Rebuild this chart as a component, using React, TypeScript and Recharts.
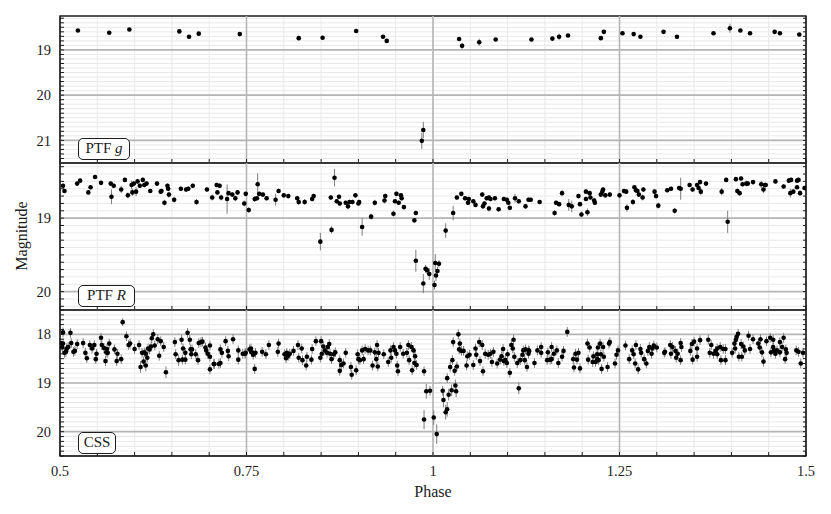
import {
  ScatterChart,
  Scatter,
  XAxis,
  YAxis,
  CartesianGrid,
  ReferenceLine,
  ReferenceArea,
  ErrorBar,
} from 'recharts';

type Pt = [number, number, number]; // phase, magnitude, error

const ptfG: Pt[] = [
  [0.524, 18.57, 0.02], [0.566, 18.62, 0.02], [0.593, 18.55, 0.02], [0.66, 18.59, 0.02], [0.673, 18.71, 0.02],
  [0.686, 18.64, 0.02], [0.741, 18.65, 0.02], [0.82, 18.74, 0.05], [0.852, 18.73, 0.02], [0.897, 18.58, 0.02],
  [0.933, 18.71, 0.02], [0.938, 18.8, 0.02], [0.985, 21.01, 0.18], [0.987, 20.77, 0.18], [1.035, 18.76, 0.03],
  [1.039, 18.91, 0.06], [1.062, 18.83, 0.08], [1.084, 18.77, 0.02], [1.132, 18.77, 0.02], [1.16, 18.75, 0.02],
  [1.169, 18.71, 0.07], [1.181, 18.68, 0.02], [1.225, 18.74, 0.02], [1.229, 18.6, 0.02], [1.254, 18.63, 0.02],
  [1.269, 18.65, 0.02], [1.278, 18.71, 0.02], [1.309, 18.6, 0.02], [1.327, 18.71, 0.02], [1.376, 18.63, 0.02],
  [1.398, 18.52, 0.1], [1.412, 18.57, 0.02], [1.425, 18.63, 0.02], [1.458, 18.6, 0.02], [1.465, 18.63, 0.02],
  [1.491, 18.66, 0.02],
];

const ptfR: Pt[] = [
  [0.504, 18.56, 0.03], [0.506, 18.63, 0.03], [0.523, 18.53, 0.03], [0.527, 18.49, 0.03], [0.538, 18.65, 0.03],
  [0.541, 18.58, 0.03], [0.547, 18.44, 0.03], [0.555, 18.52, 0.03], [0.568, 18.53, 0.03], [0.569, 18.71, 0.1],
  [0.572, 18.56, 0.03], [0.582, 18.61, 0.05], [0.587, 18.48, 0.03], [0.591, 18.69, 0.04], [0.596, 18.55, 0.06],
  [0.597, 18.65, 0.05], [0.599, 18.53, 0.03], [0.602, 18.64, 0.06], [0.604, 18.5, 0.03], [0.607, 18.56, 0.03],
  [0.611, 18.48, 0.03], [0.613, 18.55, 0.03], [0.616, 18.53, 0.03], [0.621, 18.63, 0.03], [0.63, 18.53, 0.03],
  [0.635, 18.64, 0.03], [0.636, 18.63, 0.03], [0.64, 18.79, 0.04], [0.644, 18.56, 0.03], [0.645, 18.6, 0.03],
  [0.646, 18.68, 0.04], [0.653, 18.75, 0.04], [0.662, 18.6, 0.03], [0.669, 18.61, 0.03], [0.672, 18.6, 0.03],
  [0.678, 18.56, 0.03], [0.683, 18.78, 0.04], [0.697, 18.61, 0.03], [0.704, 18.72, 0.04], [0.71, 18.55, 0.03],
  [0.711, 18.65, 0.03], [0.714, 18.56, 0.03], [0.716, 18.72, 0.04], [0.724, 18.74, 0.2], [0.726, 18.66, 0.03],
  [0.731, 18.68, 0.03], [0.735, 18.73, 0.04], [0.738, 18.65, 0.03], [0.747, 18.8, 0.04], [0.749, 18.67, 0.03],
  [0.753, 18.89, 0.04], [0.761, 18.74, 0.04], [0.764, 18.73, 0.03], [0.765, 18.54, 0.15], [0.767, 18.67, 0.03],
  [0.772, 18.68, 0.03], [0.777, 18.73, 0.03], [0.789, 18.75, 0.08], [0.793, 18.63, 0.03],
  [0.8, 18.69, 0.03], [0.806, 18.7, 0.03], [0.818, 18.73, 0.03], [0.82, 18.78, 0.04], [0.828, 18.78, 0.04],
  [0.838, 18.74, 0.03], [0.84, 18.7, 0.03], [0.849, 19.32, 0.12], [0.863, 18.72, 0.03], [0.864, 19.16, 0.05],
  [0.868, 18.45, 0.12], [0.871, 18.77, 0.03], [0.874, 18.71, 0.03], [0.875, 18.8, 0.03], [0.883, 18.79, 0.03],
  [0.886, 18.84, 0.04], [0.888, 18.78, 0.03], [0.892, 18.78, 0.03], [0.896, 18.69, 0.03], [0.9, 18.8, 0.03],
  [0.901, 18.78, 0.03], [0.905, 19.12, 0.12], [0.917, 18.98, 0.04], [0.922, 18.79, 0.04], [0.935, 18.76, 0.04],
  [0.936, 18.7, 0.03], [0.947, 18.94, 0.04], [0.949, 18.77, 0.03], [0.951, 18.67, 0.03], [0.954, 18.79, 0.03],
  [0.957, 18.69, 0.03], [0.958, 18.73, 0.03], [0.961, 18.85, 0.03], [0.975, 19.03, 0.03], [0.977, 18.93, 0.03],
  [0.977, 19.58, 0.15], [0.987, 19.89, 0.13], [0.99, 19.69, 0.05], [0.992, 19.71, 0.05], [0.995, 19.76, 0.08],
  [1.002, 19.91, 0.06], [1.003, 19.61, 0.12], [1.004, 19.78, 0.08], [1.006, 19.72, 0.06], [1.008, 19.62, 0.05],
  [1.017, 19.17, 0.1], [1.027, 18.93, 0.1], [1.032, 18.72, 0.03], [1.038, 18.67, 0.03], [1.043, 18.73, 0.03],
  [1.047, 18.79, 0.03], [1.048, 18.74, 0.03], [1.054, 18.77, 0.03], [1.057, 18.82, 0.03], [1.066, 18.68, 0.03],
  [1.067, 18.84, 0.03], [1.069, 18.8, 0.03], [1.072, 18.73, 0.03], [1.075, 18.72, 0.03], [1.075, 18.87, 0.04],
  [1.077, 18.74, 0.03], [1.083, 18.73, 0.03], [1.088, 18.88, 0.03], [1.095, 18.74, 0.03], [1.099, 18.75, 0.03],
  [1.101, 18.79, 0.03], [1.103, 18.86, 0.03], [1.11, 18.73, 0.06], [1.115, 18.77, 0.03], [1.124, 18.84, 0.03],
  [1.128, 18.75, 0.03], [1.131, 18.75, 0.03], [1.143, 18.78, 0.03],
  [1.163, 18.93, 0.04], [1.165, 18.79, 0.03], [1.169, 18.81, 0.03], [1.173, 18.66, 0.04], [1.182, 18.82, 0.08],
  [1.186, 18.84, 0.08], [1.195, 18.7, 0.03], [1.197, 18.81, 0.03], [1.199, 18.95, 0.04], [1.205, 18.64, 0.03],
  [1.205, 18.74, 0.03], [1.207, 18.92, 0.05], [1.21, 18.66, 0.03], [1.211, 18.72, 0.03], [1.216, 18.76, 0.04],
  [1.217, 18.79, 0.03], [1.225, 18.68, 0.03], [1.227, 18.64, 0.03], [1.228, 18.61, 0.03], [1.231, 18.69, 0.03],
  [1.237, 18.68, 0.03], [1.25, 18.69, 0.03], [1.256, 18.63, 0.03], [1.259, 18.64, 0.03], [1.26, 18.86, 0.05],
  [1.268, 18.78, 0.04], [1.27, 18.58, 0.03], [1.272, 18.62, 0.03], [1.274, 18.63, 0.03], [1.276, 18.68, 0.03],
  [1.281, 18.72, 0.04], [1.282, 18.61, 0.03], [1.297, 18.64, 0.03], [1.299, 18.7, 0.03], [1.302, 18.83, 0.04],
  [1.314, 18.62, 0.03], [1.319, 18.6, 0.03], [1.324, 18.9, 0.04], [1.33, 18.59, 0.03], [1.332, 18.6, 0.15],
  [1.344, 18.55, 0.03], [1.348, 18.61, 0.03], [1.354, 18.55, 0.03], [1.356, 18.59, 0.03], [1.358, 18.51, 0.03],
  [1.359, 18.64, 0.05], [1.366, 18.53, 0.03], [1.387, 18.64, 0.05], [1.393, 18.48, 0.03], [1.395, 19.05, 0.15],
  [1.406, 18.47, 0.03], [1.408, 18.63, 0.03], [1.411, 18.66, 0.03], [1.413, 18.46, 0.03], [1.415, 18.54, 0.03],
  [1.42, 18.53, 0.04], [1.422, 18.53, 0.03], [1.429, 18.51, 0.03], [1.44, 18.54, 0.05], [1.443, 18.61, 0.05],
  [1.445, 18.55, 0.03], [1.446, 18.55, 0.03], [1.459, 18.5, 0.03], [1.47, 18.57, 0.03], [1.477, 18.49, 0.03],
  [1.479, 18.66, 0.06], [1.48, 18.48, 0.03], [1.483, 18.64, 0.03], [1.488, 18.49, 0.03], [1.488, 18.58, 0.03],
  [1.49, 18.48, 0.03], [1.492, 18.66, 0.04], [1.498, 18.59, 0.03],
];

const css: Pt[] = [
  [0.501, 18.18, 0.1], [0.503, 18.26, 0.1], [0.504, 17.96, 0.1], [0.504, 18.19, 0.1], [0.506, 18.38, 0.1],
  [0.508, 18.36, 0.1], [0.509, 18.29, 0.1], [0.511, 18.26, 0.1], [0.514, 17.97, 0.1], [0.515, 18.18, 0.1],
  [0.518, 18.36, 0.1], [0.52, 18.34, 0.1], [0.523, 18.2, 0.1], [0.531, 18.18, 0.1], [0.534, 18.38, 0.1],
  [0.536, 18.49, 0.1], [0.54, 18.22, 0.1], [0.543, 18.29, 0.1], [0.546, 18.22, 0.1], [0.548, 18.51, 0.1],
  [0.549, 18.4, 0.1], [0.555, 18.07, 0.1], [0.556, 18.22, 0.1], [0.559, 18.28, 0.1], [0.561, 18.55, 0.1],
  [0.562, 18.37, 0.1], [0.563, 18.3, 0.1], [0.564, 18.38, 0.1], [0.566, 18.19, 0.1], [0.573, 18.31, 0.1],
  [0.576, 18.55, 0.1], [0.577, 18.4, 0.1], [0.582, 18.51, 0.1], [0.584, 17.75, 0.08], [0.589, 18.04, 0.1],
  [0.592, 18.22, 0.1], [0.594, 18.19, 0.1], [0.6, 18.3, 0.1], [0.606, 18.22, 0.1], [0.608, 18.67, 0.12],
  [0.61, 18.38, 0.1], [0.612, 18.56, 0.1], [0.613, 18.37, 0.1], [0.615, 18.4, 0.1], [0.615, 18.64, 0.12],
  [0.617, 18.48, 0.1], [0.618, 18.29, 0.1], [0.62, 18.31, 0.1], [0.622, 18.25, 0.1], [0.623, 18.08, 0.1],
  [0.625, 18.0, 0.1], [0.627, 18.23, 0.1], [0.631, 18.1, 0.1], [0.633, 18.44, 0.1], [0.635, 18.14, 0.1],
  [0.639, 18.26, 0.1], [0.642, 18.78, 0.12], [0.654, 18.16, 0.1], [0.655, 18.41, 0.1], [0.659, 18.53, 0.12],
  [0.663, 18.11, 0.1], [0.664, 18.52, 0.1], [0.665, 18.29, 0.1], [0.668, 18.38, 0.1], [0.668, 18.52, 0.1],
  [0.671, 17.97, 0.1], [0.674, 18.11, 0.1], [0.675, 18.31, 0.1], [0.676, 18.41, 0.1], [0.677, 18.31, 0.1],
  [0.682, 18.41, 0.1], [0.685, 18.53, 0.1], [0.686, 18.18, 0.1], [0.689, 18.16, 0.1], [0.691, 18.15, 0.1],
  [0.695, 18.27, 0.1], [0.696, 18.33, 0.1], [0.698, 18.4, 0.1], [0.701, 18.46, 0.1], [0.701, 18.23, 0.1],
  [0.701, 18.72, 0.1], [0.706, 18.61, 0.1], [0.707, 18.61, 0.1], [0.713, 18.61, 0.1], [0.715, 18.59, 0.1],
  [0.715, 18.31, 0.1], [0.717, 18.38, 0.1], [0.722, 18.14, 0.1], [0.725, 18.34, 0.1], [0.726, 18.45, 0.1],
  [0.732, 18.1, 0.1], [0.739, 18.33, 0.1], [0.739, 18.52, 0.1], [0.745, 18.4, 0.1], [0.748, 18.4, 0.1],
  [0.749, 18.38, 0.1], [0.754, 18.31, 0.1], [0.756, 18.29, 0.1], [0.757, 18.37, 0.1], [0.759, 18.42, 0.1],
  [0.761, 18.71, 0.1], [0.762, 18.38, 0.1], [0.771, 18.36, 0.1], [0.776, 18.41, 0.1], [0.78, 18.22, 0.1],
  [0.792, 18.36, 0.1], [0.793, 18.19, 0.1],
  [0.801, 18.41, 0.1], [0.803, 18.49, 0.1], [0.804, 18.38, 0.1], [0.806, 18.44, 0.1], [0.808, 18.4, 0.1],
  [0.813, 18.34, 0.1], [0.819, 18.22, 0.1], [0.82, 18.48, 0.1], [0.824, 18.29, 0.1], [0.825, 18.53, 0.1],
  [0.83, 18.64, 0.1], [0.831, 18.46, 0.1], [0.837, 18.52, 0.1], [0.838, 18.3, 0.1], [0.843, 18.14, 0.1],
  [0.849, 18.48, 0.1], [0.85, 18.14, 0.1], [0.851, 18.4, 0.1], [0.853, 18.25, 0.1], [0.855, 18.33, 0.1],
  [0.858, 18.38, 0.1], [0.859, 18.26, 0.1], [0.861, 18.2, 0.1], [0.862, 18.4, 0.1], [0.864, 18.51, 0.1],
  [0.867, 18.41, 0.1], [0.869, 18.37, 0.1], [0.875, 18.53, 0.1], [0.875, 18.75, 0.1], [0.877, 18.63, 0.1],
  [0.88, 18.6, 0.1], [0.883, 18.38, 0.1], [0.89, 18.67, 0.1], [0.891, 18.83, 0.1], [0.897, 18.74, 0.1],
  [0.899, 18.41, 0.1], [0.9, 18.51, 0.1], [0.902, 18.53, 0.1], [0.905, 18.33, 0.1], [0.907, 18.51, 0.1],
  [0.909, 18.3, 0.1], [0.913, 18.33, 0.1], [0.916, 18.33, 0.1], [0.919, 18.64, 0.1], [0.922, 18.37, 0.1],
  [0.924, 18.51, 0.1], [0.925, 18.22, 0.1], [0.926, 18.66, 0.1], [0.927, 18.38, 0.1], [0.934, 18.41, 0.1],
  [0.94, 18.57, 0.1], [0.943, 18.33, 0.1], [0.944, 18.48, 0.1], [0.947, 18.26, 0.1], [0.949, 18.33, 0.1],
  [0.951, 18.4, 0.1], [0.952, 18.64, 0.1], [0.953, 18.76, 0.1], [0.956, 18.26, 0.1], [0.96, 18.4, 0.1],
  [0.965, 18.38, 0.1], [0.967, 18.22, 0.1], [0.968, 18.53, 0.1], [0.971, 18.26, 0.1], [0.972, 18.74, 0.1],
  [0.974, 18.33, 0.1], [0.975, 18.59, 0.1], [0.976, 18.45, 0.1], [0.978, 18.63, 0.1], [0.988, 18.76, 0.1],
  [0.988, 19.75, 0.2], [0.991, 19.17, 0.15], [0.996, 19.16, 0.1], [1.001, 19.71, 0.15], [1.005, 20.05, 0.2],
  [1.013, 19.16, 0.1], [1.014, 19.35, 0.15], [1.017, 19.6, 0.15], [1.019, 18.9, 0.1], [1.019, 19.54, 0.15],
  [1.021, 19.24, 0.12], [1.023, 18.67, 0.1], [1.025, 19.15, 0.12], [1.026, 18.53, 0.1], [1.027, 18.16, 0.1],
  [1.029, 18.75, 0.1], [1.03, 19.05, 0.12], [1.031, 19.17, 0.12], [1.032, 18.66, 0.1], [1.034, 18.0, 0.1],
  [1.035, 18.31, 0.1], [1.036, 18.19, 0.1], [1.038, 18.34, 0.1], [1.041, 18.34, 0.1], [1.045, 18.64, 0.1],
  [1.046, 18.45, 0.1], [1.049, 18.42, 0.1], [1.054, 18.63, 0.1], [1.057, 18.29, 0.1], [1.058, 18.42, 0.1],
  [1.062, 18.16, 0.1], [1.063, 18.55, 0.1], [1.066, 18.22, 0.1], [1.067, 18.76, 0.1], [1.07, 18.4, 0.1],
  [1.074, 18.42, 0.1], [1.077, 18.4, 0.1], [1.079, 18.57, 0.1], [1.081, 18.36, 0.1], [1.086, 18.6, 0.1],
  [1.09, 18.52, 0.1], [1.092, 18.45, 0.1], [1.094, 18.3, 0.1], [1.095, 18.55, 0.1], [1.097, 18.53, 0.1],
  [1.099, 18.59, 0.1], [1.1, 18.41, 0.1], [1.103, 18.79, 0.1], [1.105, 18.22, 0.1], [1.107, 18.29, 0.1],
  [1.108, 18.11, 0.1], [1.109, 18.46, 0.1], [1.113, 18.59, 0.1], [1.115, 19.11, 0.12], [1.117, 18.53, 0.1],
  [1.12, 18.42, 0.1], [1.121, 18.33, 0.1], [1.123, 18.53, 0.1], [1.124, 18.31, 0.1], [1.126, 18.67, 0.1],
  [1.128, 18.33, 0.1], [1.128, 18.4, 0.1], [1.129, 18.34, 0.1], [1.136, 18.59, 0.1], [1.14, 18.33, 0.1],
  [1.145, 18.26, 0.1], [1.145, 18.38, 0.1], [1.153, 18.53, 0.1], [1.154, 18.37, 0.1], [1.157, 18.52, 0.1],
  [1.159, 18.26, 0.1], [1.159, 18.51, 0.1], [1.162, 18.4, 0.1], [1.166, 18.33, 0.1], [1.168, 18.59, 0.1],
  [1.173, 18.46, 0.1], [1.175, 18.34, 0.1], [1.18, 17.95, 0.1], [1.188, 18.51, 0.1], [1.189, 18.68, 0.1],
  [1.191, 18.4, 0.1], [1.193, 18.52, 0.1], [1.195, 18.38, 0.1], [1.197, 18.7, 0.1], [1.207, 18.19, 0.1],
  [1.208, 18.52, 0.1], [1.21, 18.27, 0.1], [1.214, 18.57, 0.1], [1.215, 18.45, 0.1], [1.218, 18.57, 0.1],
  [1.22, 18.51, 0.1], [1.22, 18.41, 0.1], [1.221, 18.27, 0.1], [1.222, 18.53, 0.1], [1.224, 18.19, 0.1],
  [1.225, 18.41, 0.1], [1.226, 18.71, 0.1], [1.228, 18.26, 0.1], [1.229, 18.46, 0.1], [1.234, 18.67, 0.1],
  [1.236, 18.19, 0.1], [1.237, 18.16, 0.1], [1.244, 18.6, 0.1], [1.246, 18.42, 0.1], [1.248, 18.33, 0.1],
  [1.258, 18.23, 0.1], [1.263, 18.51, 0.1], [1.267, 18.33, 0.1], [1.269, 18.41, 0.1], [1.271, 18.6, 0.1],
  [1.272, 18.22, 0.1], [1.275, 18.72, 0.1], [1.278, 18.3, 0.1], [1.279, 18.38, 0.1], [1.283, 18.51, 0.1],
  [1.286, 18.6, 0.1], [1.288, 18.34, 0.1], [1.29, 18.26, 0.1], [1.293, 18.4, 0.1], [1.294, 18.29, 0.1],
  [1.296, 18.23, 0.1], [1.3, 18.27, 0.1], [1.31, 18.38, 0.1], [1.311, 18.36, 0.1], [1.318, 18.22, 0.1],
  [1.319, 18.4, 0.1], [1.321, 18.26, 0.1], [1.325, 18.34, 0.1], [1.326, 18.48, 0.1], [1.328, 18.4, 0.1],
  [1.332, 18.53, 0.1], [1.332, 18.18, 0.1], [1.333, 18.26, 0.1], [1.345, 18.34, 0.1], [1.347, 18.2, 0.1],
  [1.348, 18.52, 0.1], [1.35, 18.15, 0.1], [1.354, 18.29, 0.1], [1.354, 18.46, 0.1], [1.358, 18.12, 0.1],
  [1.369, 18.11, 0.1], [1.371, 18.38, 0.1], [1.373, 18.22, 0.1], [1.376, 18.4, 0.1], [1.379, 18.34, 0.1],
  [1.381, 18.41, 0.1], [1.381, 18.29, 0.1], [1.385, 18.26, 0.1], [1.386, 18.53, 0.1], [1.389, 18.3, 0.1],
  [1.392, 18.53, 0.1], [1.392, 18.3, 0.1], [1.401, 18.38, 0.1], [1.404, 18.19, 0.1], [1.405, 18.29, 0.1],
  [1.406, 18.11, 0.1], [1.407, 18.05, 0.1], [1.409, 17.99, 0.1], [1.41, 18.46, 0.1], [1.413, 18.2, 0.1],
  [1.414, 18.46, 0.1], [1.416, 18.25, 0.1], [1.418, 18.33, 0.1], [1.423, 18.03, 0.1], [1.425, 18.3, 0.1],
  [1.429, 18.1, 0.1], [1.436, 18.19, 0.1], [1.438, 18.27, 0.1], [1.439, 18.1, 0.1], [1.441, 18.37, 0.1],
  [1.443, 18.56, 0.1], [1.447, 18.14, 0.1], [1.452, 18.07, 0.1], [1.453, 18.37, 0.1], [1.456, 18.11, 0.1],
  [1.456, 18.26, 0.1], [1.457, 18.33, 0.1], [1.459, 18.4, 0.1], [1.461, 18.33, 0.1], [1.465, 18.37, 0.1],
  [1.465, 18.16, 0.1], [1.468, 18.26, 0.1], [1.47, 18.07, 0.1], [1.472, 18.51, 0.1], [1.473, 18.31, 0.1],
  [1.474, 18.38, 0.1], [1.487, 18.33, 0.1], [1.49, 18.36, 0.1], [1.493, 18.6, 0.1], [1.496, 18.38, 0.1],
];

const phaseTicks = Array.from({ length: 21 }, (_, i) => Math.round((0.5 + i * 0.05) * 100) / 100);
const phaseMajor = [0.75, 1, 1.25];
const phaseLabels = [0.5, 0.75, 1, 1.25, 1.5];

const FONT = '"Liberation Serif", "DejaVu Serif", serif';
const INK = '#1c1c1c';

function magTicks(lo: number, hi: number) {
  const out: number[] = [];
  for (let k = Math.ceil(lo * 10 - 1e-6); k <= Math.floor(hi * 10 + 1e-6); k++) out.push(k / 10);
  return out;
}

function Dot(props: any) {
  return <circle cx={props.cx} cy={props.cy} r={2.3} fill="#000" />;
}

function Panel({ data, domain, top, bottom, showX }: { data: Pt[]; domain: [number, number]; top: number; bottom: number; showX: boolean }) {
  const ticks = magTicks(domain[0], domain[1]);
  const majors = ticks.filter((t) => Math.abs(t - Math.round(t)) < 1e-6);
  const rows = data.map(([phase, mag, err]) => ({ phase, mag, err }));
  return (
    <div style={{ position: 'absolute', left: 0, top: 0 }}>
      <ScatterChart width={831} height={514} margin={{ top, right: 20, bottom: 514 - bottom - 30, left: 10 }}>
        <CartesianGrid stroke="#e9e9e9" strokeWidth={1} />
        {phaseMajor.map((x) => (
          <ReferenceLine key={'x' + x} x={x} stroke="#b5b5b5" strokeWidth={1.6} />
        ))}
        {majors.map((y) => (
          <ReferenceLine key={'y' + y} y={y} stroke="#b5b5b5" strokeWidth={1.6} />
        ))}
        <XAxis
          type="number"
          dataKey="phase"
          domain={[0.5, 1.5]}
          allowDataOverflow
          ticks={phaseTicks}
          interval={0}
          height={30}
          tickSize={-4}
          tickMargin={14}
          stroke={INK}
          tick={{ fill: INK, fontSize: 14.5, fontFamily: FONT }}
          tickFormatter={(v: number) => (showX && phaseLabels.includes(v) ? String(v) : '')}
        />
        <XAxis
          xAxisId="t"
          orientation="top"
          type="number"
          domain={[0.5, 1.5]}
          allowDataOverflow
          ticks={phaseTicks}
          interval={0}
          height={0}
          tickSize={-4}
          stroke={INK}
          tickFormatter={() => ''}
        />
        <YAxis
          type="number"
          dataKey="mag"
          domain={domain}
          reversed
          allowDataOverflow
          ticks={ticks}
          interval={0}
          width={50}
          tickSize={-4}
          tickMargin={13}
          stroke={INK}
          tick={{ fill: INK, fontSize: 14.5, fontFamily: FONT }}
          tickFormatter={(v: number) => (Math.abs(v - Math.round(v)) < 1e-6 ? String(Math.round(v)) : '')}
        />
        <YAxis
          yAxisId="r"
          orientation="right"
          type="number"
          domain={domain}
          reversed
          allowDataOverflow
          ticks={ticks}
          interval={0}
          width={5}
          tickSize={-3}
          stroke={INK}
          tickFormatter={() => ''}
        />
        <ReferenceArea x1={0.5} x2={1.5} y1={domain[0]} y2={domain[1]} fill="none" stroke={INK} strokeWidth={1.4} />
        <Scatter data={rows} shape={Dot} isAnimationActive={false}>
          <ErrorBar dataKey="err" direction="y" width={0} stroke="#7d7d7d" strokeWidth={1} isAnimationActive={false} />
        </Scatter>
      </ScatterChart>
    </div>
  );
}

function Tag({ left, top, width, children }: { left: number; top: number; width: number; children: any }) {
  return (
    <div
      style={{
        position: 'absolute',
        left,
        top,
        width,
        height: 22,
        boxSizing: 'border-box',
        border: `1.6px solid ${INK}`,
        borderRadius: 5,
        background: '#fff',
        fontFamily: FONT,
        fontSize: 15,
        lineHeight: '19px',
        textAlign: 'center',
        color: INK,
      }}
    >
      {children}
    </div>
  );
}

export default function App() {
  return (
    <div style={{ position: 'relative', width: 831, height: 514, background: '#fff', overflow: 'hidden' }}>
      <style>{'body{margin:0}'}</style>
      <Panel data={ptfG} domain={[18.25, 21.5]} top={16} bottom={163} showX={false} />
      <Panel data={ptfR} domain={[18.25, 20.25]} top={163} bottom={310} showX={false} />
      <Panel data={css} domain={[17.5, 20.5]} top={310} bottom={456} showX={true} />
      <Tag left={78} top={138} width={52}>
        PTF <i>g</i>
      </Tag>
      <Tag left={78} top={285} width={57}>
        PTF <i>R</i>
      </Tag>
      <Tag left={78} top={432} width={38}>
        CSS
      </Tag>
      <div
        style={{
          position: 'absolute',
          left: 22,
          top: 236,
          transform: 'translate(-50%, -50%) rotate(-90deg)',
          fontFamily: FONT,
          fontSize: 16,
          color: INK,
          whiteSpace: 'nowrap',
        }}
      >
        Magnitude
      </div>
      <div
        style={{
          position: 'absolute',
          left: 433,
          top: 483,
          transform: 'translateX(-50%)',
          fontFamily: FONT,
          fontSize: 16,
          color: INK,
        }}
      >
        Phase
      </div>
    </div>
  );
}
